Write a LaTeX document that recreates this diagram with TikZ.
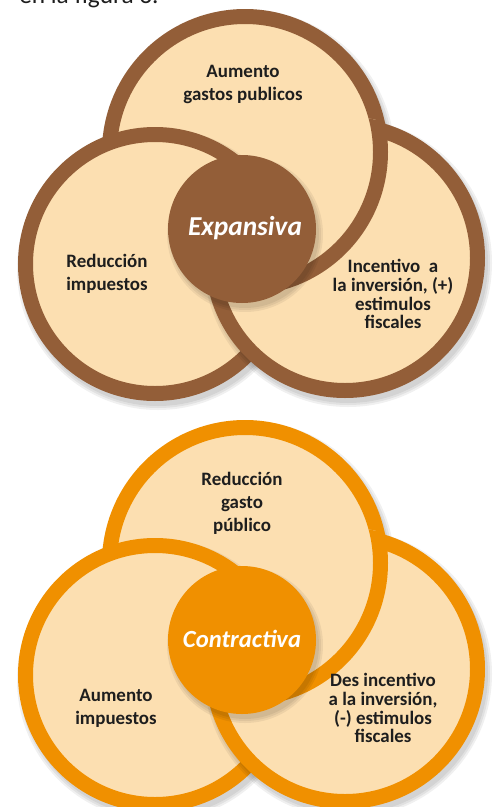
\documentclass[tikz,border=0pt]{standalone}
\usepackage{fontspec}
\setmainfont{Carlito}
\begin{document}
\begin{tikzpicture}[x=0.75pt,y=-0.75pt]
\definecolor{brownring}{RGB}{147,94,56}
\definecolor{peach}{RGB}{252,223,177}
\definecolor{orangering}{RGB}{240,144,0}
\definecolor{txt}{RGB}{30,30,30}
\tikzset{
  ring/.style={line width=11.25pt},
  lbl/.style={font=\bfseries\fontsize{14.2}{17.25}\selectfont, text=txt, align=center, inner sep=0pt},
  lbltight/.style={font=\bfseries\fontsize{14.2}{14.2}\selectfont, text=txt, align=center, inner sep=0pt},
  centerlbl/.style={font=\bfseries\itshape\fontsize{20.5}{24}\selectfont, text=white, inner sep=0pt},
  shad/.style={fill=black, opacity=0.06},
}
\useasboundingbox (0,0) rectangle (494,807);
\fill[white] (0,0) rectangle (494,807);
\node[anchor=base west, inner sep=0pt, text=txt, font=\fontsize{19}{22}\selectfont] (cap) at (19,3) {en la figura 3.};

% ---------- Expansiva ----------
\begin{scope}
  \coordinate (T1) at (245,152);
  \coordinate (L1) at (155,264);
  \coordinate (R1) at (345,258);
  \coordinate (C1) at (242,229);
  \foreach \r in {143,145,147} \fill[shad] ([shift={(3,5)}]T1) circle (\r);
  \fill[peach] (T1) circle (135.5);
  \draw[ring, brownring] (T1) circle (135.5);
  \foreach \r in {137,139,141} \fill[shad] ([shift={(3,5)}]L1) circle (\r);
  \fill[peach] (L1) circle (129.5);
  \draw[ring, brownring] (L1) circle (129.5);
  \foreach \r in {140,142,144} \fill[shad] ([shift={(3,5)}]R1) circle (\r);
  \fill[peach] (R1) circle (132.5);
  \draw[ring, brownring] (R1) circle (132.5);
  \begin{scope}
    \clip (R1) circle (141.5);
    \fill[peach] (T1) circle (135.5);
    \draw[ring, brownring] (T1) circle (135.5);
  \end{scope}
  \foreach \r in {74,76,78} \fill[shad] ([shift={(3,5)}]C1) circle (\r);
  \fill[brownring] (C1) circle (74);
  \node[lbl] (t1) at (243,84) {Aumento\\gastos publicos};
  \node[lbl] (l1) at (107,274) {Reducción\\impuestos};
  \node[lbltight] (r1) at (393,294) {Incentivo\ \ a\\la inversión, (+)\\estimulos\\fiscales};
  \node[centerlbl] (c1) at (245,228) {Expansiva};
\end{scope}

% ---------- Contractiva ----------
\begin{scope}[shift={(0,411)}]
  \coordinate (T2) at (245,152);
  \coordinate (L2) at (155,264);
  \coordinate (R2) at (345,258);
  \coordinate (C2) at (242,229);
  \foreach \r in {143,145,147} \fill[shad] ([shift={(3,5)}]T2) circle (\r);
  \fill[peach] (T2) circle (135.5);
  \draw[ring, orangering] (T2) circle (135.5);
  \foreach \r in {137,139,141} \fill[shad] ([shift={(3,5)}]L2) circle (\r);
  \fill[peach] (L2) circle (129.5);
  \draw[ring, orangering] (L2) circle (129.5);
  \foreach \r in {140,142,144} \fill[shad] ([shift={(3,5)}]R2) circle (\r);
  \fill[peach] (R2) circle (132.5);
  \draw[ring, orangering] (R2) circle (132.5);
  \begin{scope}
    \clip (R2) circle (141.5);
    \fill[peach] (T2) circle (135.5);
    \draw[ring, orangering] (T2) circle (135.5);
  \end{scope}
  \foreach \r in {74,76,78} \fill[shad] ([shift={(3,5)}]C2) circle (\r);
  \fill[orangering] (C2) circle (74);
  \node[lbl] (t2) at (242,92) {Reducción\\gasto\\público};
  \node[lbl] (l2) at (116,297) {Aumento\\impuestos};
  \node[lbltight] (r2) at (383,297) {Des incentivo\\a la inversión,\\(-) estimulos\\fiscales};
  \node[centerlbl, font=\bfseries\itshape\fontsize{18.5}{22}\selectfont] (c2) at (242,228) {Contractiva};
\end{scope}
\end{tikzpicture}
\end{document}
